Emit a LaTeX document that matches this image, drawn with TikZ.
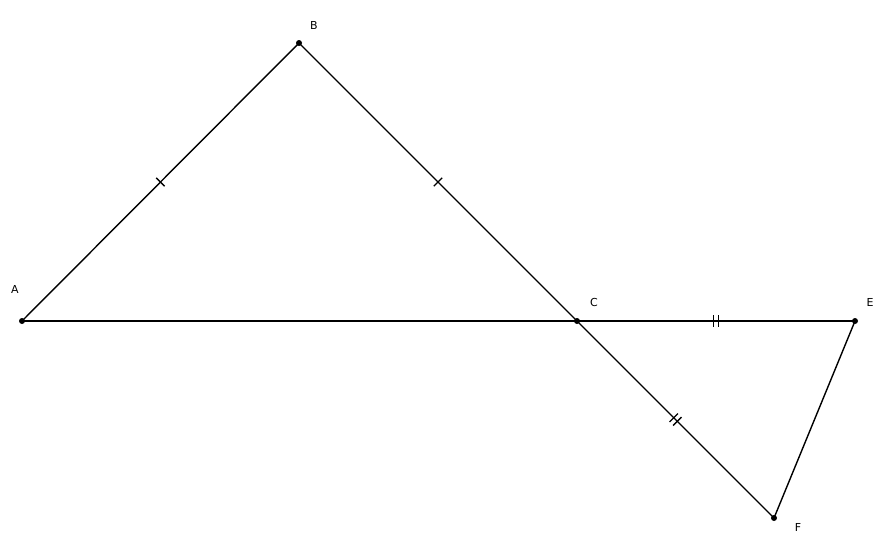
\documentclass[tikz,border=0pt]{standalone}
\usepackage{fontspec}
\setmainfont{DejaVu Sans}
\usetikzlibrary{decorations.markings}
\begin{document}
\begin{tikzpicture}[x=1pt,y=-1pt,
  seg/.style={line width=1.4pt},
  pt/.style={circle,fill=black,inner sep=0pt,minimum size=6pt},
  lbl/.style={font=\fontsize{11}{13}\selectfont},
  onetick/.style={postaction={decorate,decoration={markings,mark=at position 0.5 with {\draw[line width=1.4pt] (0,-6) -- (0,6);}}}},
  twotick/.style={postaction={decorate,decoration={markings,mark=at position 0.5 with {\draw[line width=1.4pt] (-2.5,-6) -- (-2.5,6) (2.5,-6) -- (2.5,6);}}}}]
\useasboundingbox (0,0) rectangle (885,552);
\node[pt] (A) at (22,321) {};
\node[pt] (B) at (299,43) {};
\node[pt] (C) at (577,321) {};
\node[pt] (E) at (855,321) {};
\node[pt] (F) at (774,518) {};
\node[lbl] (lA) at (15,289) {A};
\node[lbl] (lB) at (314,25) {B};
\node[lbl] (lC) at (594,302) {C};
\node[lbl] (lE) at (870,302) {E};
\node[lbl] (lF) at (798,527) {F};
\draw[seg,onetick] (A.center) -- (B.center);
\draw[seg,onetick] (B.center) -- (C.center);
\draw[seg] (A.center) -- (C.center);
\draw[seg,twotick] (C.center) -- (E.center);
\draw[seg,twotick] (C.center) -- (F.center);
\draw[seg] (E.center) -- (F.center);
\end{tikzpicture}
\end{document}
